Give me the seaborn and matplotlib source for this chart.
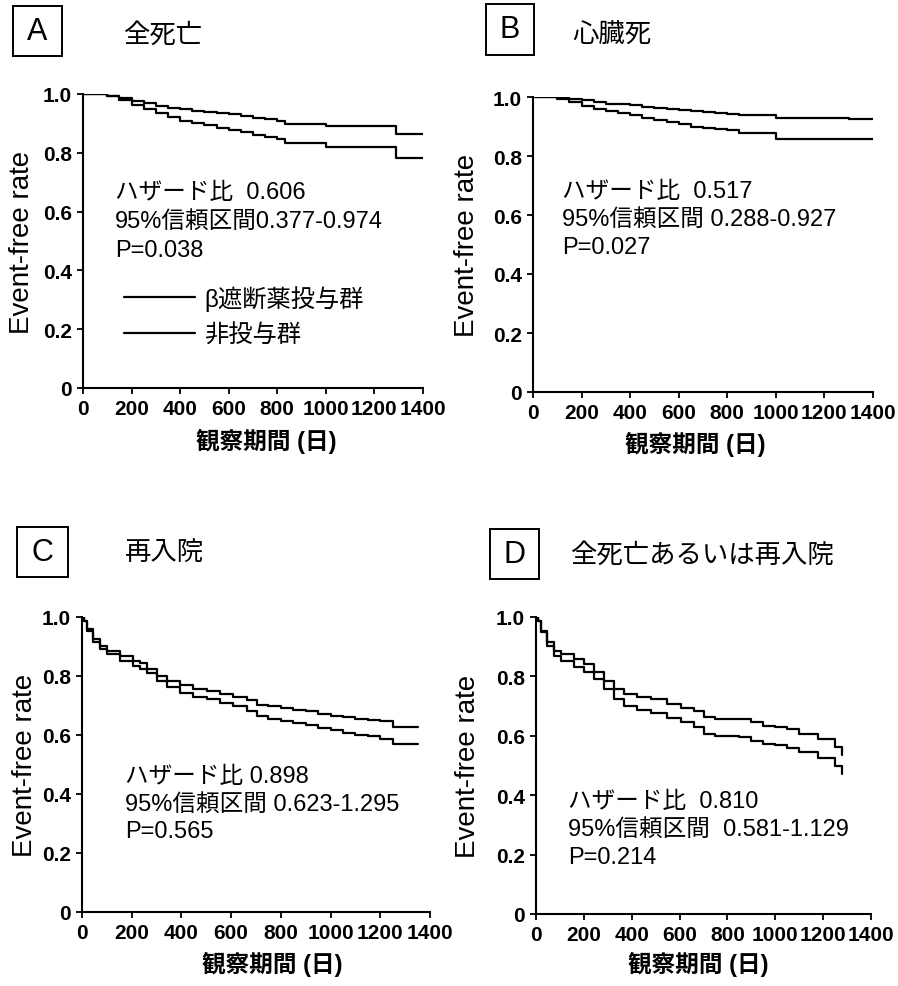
import matplotlib
matplotlib.use("Agg")
import matplotlib.pyplot as plt
from matplotlib.patches import Rectangle
import seaborn as sns
import pandas as pd

# ---------------- data ----------------
group_labels = ["β遮断薬投与群", "非投与群"]

a_days = [0, 100, 150, 200, 250, 300, 350, 400, 450, 500, 550, 600, 650, 700, 750, 800, 830, 900, 1000, 1100, 1200, 1290, 1400]
a_beta = [1.0, 0.994, 0.988, 0.977, 0.968, 0.958, 0.953, 0.949, 0.943, 0.938, 0.935, 0.932, 0.924, 0.918, 0.914, 0.909, 0.898, 0.898, 0.890, 0.890, 0.890, 0.864, 0.864]
a_non = [1.0, 0.993, 0.980, 0.962, 0.949, 0.934, 0.922, 0.909, 0.901, 0.895, 0.884, 0.879, 0.870, 0.861, 0.855, 0.847, 0.834, 0.834, 0.819, 0.819, 0.819, 0.784, 0.784]

b_days = [0, 100, 150, 200, 250, 300, 350, 400, 450, 500, 550, 600, 650, 700, 750, 800, 850, 900, 1000, 1100, 1200, 1300, 1400]
b_beta = [1.0, 0.998, 0.994, 0.989, 0.982, 0.977, 0.975, 0.972, 0.967, 0.963, 0.960, 0.957, 0.953, 0.949, 0.946, 0.943, 0.938, 0.938, 0.930, 0.929, 0.928, 0.926, 0.926]
b_non = [1.0, 0.994, 0.983, 0.969, 0.960, 0.952, 0.945, 0.938, 0.929, 0.921, 0.914, 0.907, 0.900, 0.895, 0.891, 0.887, 0.879, 0.879, 0.858, 0.858, 0.858, 0.858, 0.858]

c_days = [0, 8, 19, 46, 72, 99, 153, 207, 233, 260, 300, 341, 394, 448, 502, 555, 609, 663, 703, 750, 800, 850, 900, 950, 1000, 1050, 1100, 1150, 1200, 1250, 1350]
c_beta = [1.0, 0.985, 0.959, 0.925, 0.903, 0.886, 0.869, 0.852, 0.844, 0.824, 0.801, 0.784, 0.769, 0.756, 0.750, 0.739, 0.728, 0.720, 0.703, 0.699, 0.692, 0.686, 0.680, 0.672, 0.664, 0.660, 0.653, 0.650, 0.646, 0.627, 0.627]
c_non = [1.0, 0.985, 0.954, 0.914, 0.892, 0.875, 0.852, 0.833, 0.823, 0.810, 0.782, 0.762, 0.742, 0.730, 0.723, 0.710, 0.698, 0.682, 0.665, 0.655, 0.646, 0.640, 0.633, 0.625, 0.616, 0.608, 0.601, 0.595, 0.588, 0.571, 0.571]

d_days = [0, 8, 19, 47, 75, 103, 159, 200, 242, 284, 326, 368, 423, 479, 549, 605, 660, 700, 750, 800, 850, 900, 950, 1000, 1050, 1100, 1180, 1250, 1280]
d_beta = [1.0, 0.985, 0.954, 0.915, 0.887, 0.875, 0.859, 0.842, 0.814, 0.786, 0.758, 0.741, 0.730, 0.724, 0.707, 0.692, 0.685, 0.662, 0.656, 0.655, 0.655, 0.648, 0.633, 0.629, 0.624, 0.607, 0.590, 0.562, 0.534]
d_non = [1.0, 0.985, 0.948, 0.903, 0.870, 0.853, 0.831, 0.814, 0.791, 0.758, 0.724, 0.701, 0.688, 0.677, 0.660, 0.645, 0.628, 0.605, 0.600, 0.598, 0.595, 0.584, 0.573, 0.570, 0.560, 0.546, 0.525, 0.500, 0.472]

panel_letters = ["A", "B", "C", "D"]
panel_titles = ["全死亡", "心臓死", "再入院", "全死亡あるいは再入院"]
panel_stats = [
    ["ハザード比  0.606", "95%信頼区間0.377-0.974", "P=0.038"],
    ["ハザード比  0.517", "95%信頼区間 0.288-0.927", "P=0.027"],
    ["ハザード比 0.898", "95%信頼区間 0.623-1.295", "P=0.565"],
    ["ハザード比  0.810", "95%信頼区間  0.581-1.129", "P=0.214"],
]
x_ticks = [0, 200, 400, 600, 800, 1000, 1200, 1400]
y_ticks = [0, 0.2, 0.4, 0.6, 0.8, 1.0]
y_tick_labels = ["0", "0.2", "0.4", "0.6", "0.8", "1.0"]
x_label = "観察期間 (日)"
y_label = "Event-free rate"

# ---------------- style ----------------
sns.set_theme(style="ticks")
plt.rcParams["font.family"] = ["Liberation Sans", "Noto Sans CJK JP"]
plt.rcParams["axes.unicode_minus"] = False
plt.rcParams["text.color"] = "black"
plt.rcParams["axes.labelcolor"] = "black"
plt.rcParams["xtick.color"] = "black"
plt.rcParams["ytick.color"] = "black"
plt.rcParams["axes.edgecolor"] = "black"

W, H = 898, 987
fig = plt.figure(figsize=(W / 100, H / 100), dpi=100)

# axes rectangles in pixels: left, top, right, bottom
axes_px = [(83, 95, 423, 389), (533, 98, 873, 393), (82, 618, 430, 913), (536, 618, 871, 915)]
box_px = [(13, 7, 62, 57), (486, 5, 534, 56), (17, 528, 68, 578), (490, 530, 539, 580)]
title_px = [(123, 35), (572, 35), (125, 553), (570, 555)]
stat_pos = [(0.094, [0.667, 0.568, 0.469]), (0.085, [0.681, 0.586, 0.492]),
            (0.124, [0.461, 0.366, 0.275]), (0.096, [0.380, 0.286, 0.192])]
ylabel_x = [-0.179, -0.194, -0.164, -0.203]
xlabel_pos = [(0.54, -0.18), (0.476, -0.176), (0.546, -0.176), (0.484, -0.168)]

data = [(a_days, a_beta, a_non), (b_days, b_beta, b_non), (c_days, c_beta, c_non), (d_days, d_beta, d_non)]

for i, (days, beta, non) in enumerate(data):
    l, t, r, b = axes_px[i]
    ax = fig.add_axes([l / W, 1 - b / H, (r - l) / W, (b - t) / H])
    df = pd.DataFrame({
        "day": list(days) + list(days),
        "rate": list(beta) + list(non),
        "group": [group_labels[0]] * len(days) + [group_labels[1]] * len(days),
    })
    sns.lineplot(data=df, x="day", y="rate", hue="group", palette=["black", "black"],
                 drawstyle="steps-post", estimator=None, sort=False, lw=1.6,
                 legend=(i == 0), ax=ax)
    ax.set_xlim(0, 1400)
    ax.set_ylim(0, 1.0)
    ax.set_xticks(x_ticks)
    ax.set_xticklabels([str(v) for v in x_ticks])
    ax.set_yticks(y_ticks)
    ax.set_yticklabels(y_tick_labels)
    for sp in ["top", "right"]:
        ax.spines[sp].set_visible(False)
    for sp in ["left", "bottom"]:
        ax.spines[sp].set_linewidth(1.5)
        ax.spines[sp].set_color("black")
    ax.tick_params(direction="out", length=4, width=1.3, labelsize=15, pad=4, colors="black")
    for lab in ax.get_xticklabels() + ax.get_yticklabels():
        lab.set_fontweight("bold")
    ax.set_ylabel(y_label, fontsize=20, va="center", color="black")
    ax.yaxis.set_label_coords(ylabel_x[i], 0.5)
    ax.set_xlabel(x_label, fontsize=17, fontweight="bold", va="center", color="black")
    ax.xaxis.set_label_coords(*xlabel_pos[i])
    ax.set_facecolor("white")

    sx, sys_ = stat_pos[i]
    for line, yy in zip(panel_stats[i], sys_):
        ax.text(sx, yy, line, transform=ax.transAxes, fontsize=17, va="center", ha="left", color="black")

    if i == 0:
        sns.move_legend(ax, "upper left", bbox_to_anchor=(0.121, 0.35), title=None,
                        frameon=False, fontsize=17.5, handlelength=2.9, handletextpad=0.42,
                        labelspacing=0.52, borderpad=0, borderaxespad=0)
        for txt in ax.get_legend().get_texts():
            txt.set_color("black")

    # panel letter box
    bl, bt, br, bb = box_px[i]
    fig.patches.append(Rectangle((bl / W, 1 - bb / H), (br - bl) / W, (bb - bt) / H,
                                 transform=fig.transFigure, fill=False, ec="black", lw=1.4))
    fig.text((bl + br) / 2 / W, 1 - (bt + bb) / 2 / H, panel_letters[i], fontsize=22,
             ha="center", va="center", color="black")
    tx, ty = title_px[i]
    fig.text(tx / W, 1 - ty / H, panel_titles[i], fontsize=19, ha="left", va="center", color="black")

fig.savefig("out.png", dpi=100, facecolor="white")
